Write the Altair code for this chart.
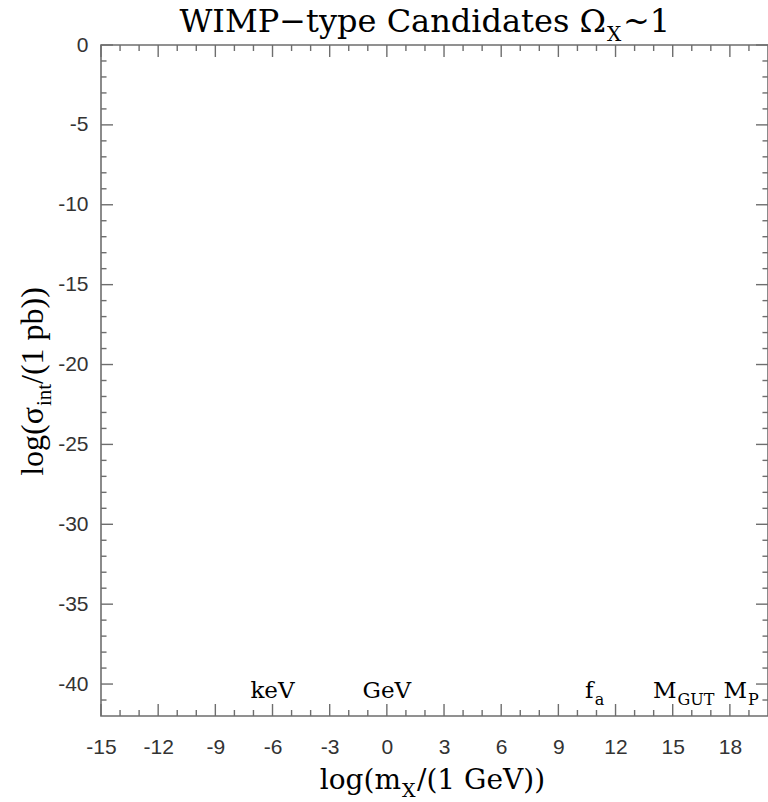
import altair as alt
import pandas as pd

# ---------------- data ----------------
X_DOMAIN = [-15, 20]
Y_DOMAIN = [-42, 0]

x_major = [-15, -12, -9, -6, -3, 0, 3, 6, 9, 12, 15, 18]
x_minor = [-14, -13, -11, -10, -8, -7, -5, -4, -2, -1, 1, 2, 4, 5, 7, 8,
           10, 11, 13, 14, 16, 17, 19]
y_major = [0, -5, -10, -15, -20, -25, -30, -35, -40]
y_minor = [-1, -2, -3, -4, -6, -7, -8, -9, -11, -12, -13, -14, -16, -17, -18, -19,
           -21, -22, -23, -24, -26, -27, -28, -29, -31, -32, -33, -34, -36, -37,
           -38, -39, -41]

mass_labels = ["keV", "GeV"]
mass_label_x = [-6, 0]

sub_labels_main = ["f", "M", "M"]
sub_labels_sub = ["a", "GUT", "P"]
sub_labels_x = [10.85, 15.2, 18.9]

title_parts = ["WIMP\u2212type Candidates \u03a9", "X", "~1"]
xtitle_parts = ["log(m", "X", "/(1  GeV))"]
ytitle_parts = ["log(\u03c3", "int", "/(1   pb))"]

# ---------------- style ----------------
SERIF = "DejaVu Serif"
TIMES = "Liberation Serif"
SANS = "Liberation Sans Narrow, Arial Narrow, Liberation Sans"
GRAY = "#6e6e6e"
W, H = 667, 671

xs = alt.Scale(domain=X_DOMAIN, nice=False, zero=False)
ys = alt.Scale(domain=Y_DOMAIN, nice=False, zero=False)

xt = pd.DataFrame({"v": x_major + x_minor,
                   "major": [1] * len(x_major) + [0] * len(x_minor)})
yt = pd.DataFrame({"v": y_major + y_minor,
                   "major": [1] * len(y_major) + [0] * len(y_minor)})

x_axis = alt.Axis(values=x_major, labelExpr="toString(datum.value)", domain=False,
                  ticks=False, tickSize=0, grid=False, labelFont=SANS, labelFontSize=21,
                  labelColor="#333333", labelPadding=20, title=None,
                  labelFlush=False, labelOverlap=False)
y_axis = alt.Axis(values=y_major, labelExpr="toString(datum.value)", domain=False,
                  ticks=False, tickSize=0, grid=False, labelFont=SANS, labelFontSize=21,
                  labelColor="#333333", labelPadding=13, title=None,
                  labelFlush=False, labelOverlap=False)


def X(field):
    return alt.X(field, scale=xs, axis=x_axis)


def Y(field):
    return alt.Y(field, scale=ys, axis=y_axis)


rule_style = dict(color=GRAY, strokeWidth=1.4)

bottom_ticks = alt.Chart(xt).transform_calculate(
    y0="-42", y1="datum.major ? -42 + 0.75 : -42 + 0.375"
).mark_rule(**rule_style).encode(x=X("v:Q"), y=Y("y0:Q"), y2="y1:Q")

top_ticks = alt.Chart(xt).transform_calculate(
    y0="0", y1="datum.major ? -0.75 : -0.375"
).mark_rule(**rule_style).encode(x=X("v:Q"), y=Y("y0:Q"), y2="y1:Q")

left_ticks = alt.Chart(yt).transform_calculate(
    x0="-15", x1="datum.major ? -15 + 0.63 : -15 + 0.29"
).mark_rule(**rule_style).encode(y=Y("v:Q"), x=X("x0:Q"), x2="x1:Q")

right_ticks = alt.Chart(yt).transform_calculate(
    x0="20", x1="datum.major ? 20 - 0.63 : 20 - 0.29"
).mark_rule(**rule_style).encode(y=Y("v:Q"), x=X("x0:Q"), x2="x1:Q")


def ptext(s, x, y, size, align, font=SERIF, angle=0):
    return alt.Chart(pd.DataFrame({"t": [s]})).mark_text(
        font=font, fontSize=size, align=align, baseline="alphabetic",
        angle=angle, color="black"
    ).encode(x=alt.value(x), y=alt.value(y), text="t:N")


# title (anchor at boundary between Omega and subscript X)
title_layers = [
    ptext(title_parts[0], 505, -13, 32, "right"),
    ptext(title_parts[1], 506, -4, 20, "left"),
    ptext(title_parts[2], 522, -13, 32, "left"),
]
# x axis title
xtitle_layers = [
    ptext(xtitle_parts[0], 300, 744, 28, "right"),
    ptext(xtitle_parts[1], 301, 752, 19, "left"),
    ptext(xtitle_parts[2], 316, 744, 28, "left"),
]
# y axis title (rotated)
ytitle_layers = [
    ptext(ytitle_parts[0], -58, 362, 32, "right", font=TIMES, angle=270),
    ptext(ytitle_parts[1], -50, 361, 21, "left", font=TIMES, angle=270),
    ptext(ytitle_parts[2], -58, 339, 32, "left", font=TIMES, angle=270),
]

mass_df = pd.DataFrame({"label": mass_labels, "x": mass_label_x})
mass_text = alt.Chart(mass_df).transform_calculate(y="-40.85").mark_text(
    font=SERIF, fontSize=23, align="center", baseline="alphabetic", color="black"
).encode(x=X("x:Q"), y=Y("y:Q"), text="label:N")

sub_df = pd.DataFrame({"main": sub_labels_main, "sub": sub_labels_sub, "x": sub_labels_x})
sub_main_text = alt.Chart(sub_df).transform_calculate(y="-40.85").mark_text(
    font=SERIF, fontSize=23, align="right", baseline="alphabetic", color="black"
).encode(x=X("x:Q"), y=Y("y:Q"), text="main:N")
sub_sub_text = alt.Chart(sub_df).transform_calculate(y="-41.3").mark_text(
    font=SERIF, fontSize=16, align="left", baseline="alphabetic", color="black", dx=1
).encode(x=X("x:Q"), y=Y("y:Q"), text="sub:N")

chart = alt.layer(
    bottom_ticks, left_ticks, top_ticks, right_ticks,
    mass_text, sub_main_text, sub_sub_text,
    *title_layers, *xtitle_layers, *ytitle_layers,
).properties(
    width=W, height=H,
    autosize=alt.AutoSizeParams(type="none"),
    padding={"left": 101, "top": 45, "right": 0, "bottom": 86},
    background="white",
).configure_view(stroke=GRAY, strokeWidth=1.6)

chart.save("out.html", embed_options={"renderer": "svg", "actions": False})
